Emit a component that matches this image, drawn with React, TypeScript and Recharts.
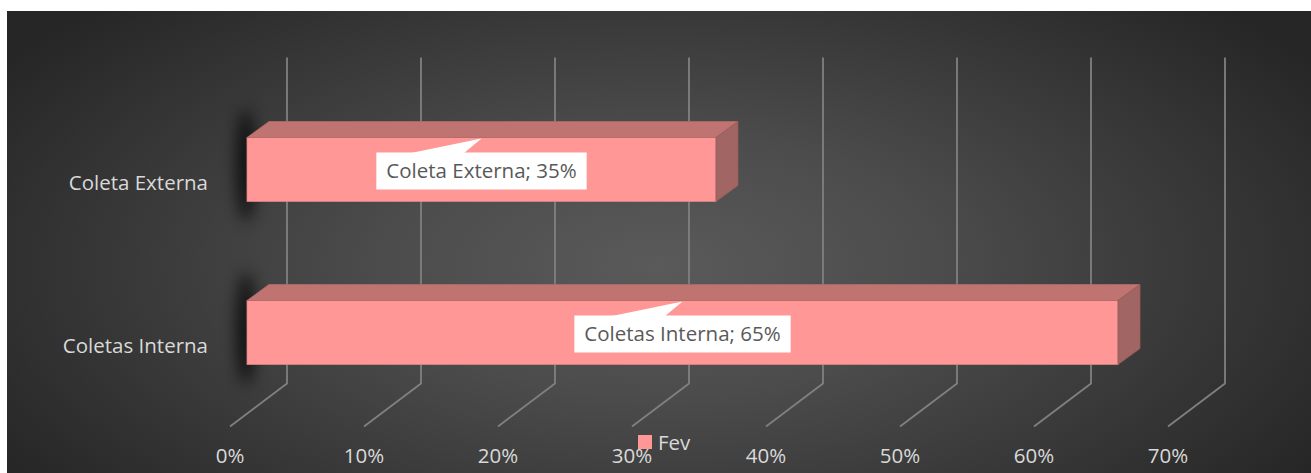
import { useLayoutEffect, useRef, useState } from "react"
import { Bar, BarChart, CartesianGrid, LabelList, Legend, XAxis, YAxis } from "recharts"

const categories = ["Coleta Externa", "Coletas Interna"]
const fevValues = [0.35, 0.65]
const xTicks = [0, 0.1, 0.2, 0.3, 0.4, 0.5, 0.6, 0.7]
const seriesName = "Fev"

const pct = (v: number) => `${Math.round(v * 100)}%`

const data = categories.map((name, i) => ({
    name,
    fev: fevValues[i],
    label: `${name}; ${pct(fevValues[i])}`,
}))

const FONT = "'Open Sans', 'Noto Sans', sans-serif"
const FONT_SIZE = 20.5
const TEXT = "#d9d9d9"
const GRID = "#808080"

// depth of the 3d box seen from the bar's front face
const BOX_DX = 22
const BOX_DY = 16
// back wall / front floor relative to the plane of the bar fronts
const WALL_DX = 40
const WALL_DY = 30
const FLOOR_DX = 17
const FLOOR_DY = 13

function WallLine(props: any) {
    const { x1, y1, y2 } = props
    const bx = x1 + WALL_DX
    return (
        <g key={props.key}>
            <polyline
                points={`${bx},${y1 - WALL_DY} ${bx},${y2 - WALL_DY} ${x1 - FLOOR_DX},${y2 + FLOOR_DY}`}
                fill="none"
                stroke={GRID}
                strokeWidth={1.8}
            />
        </g>
    )
}

function Box3D(props: any) {
    const { x, y, width: w, height: h } = props
    return (
        <g>
            <ellipse cx={x - 1} cy={y + h / 2 - 4} rx={9} ry={56} fill="#000" opacity={0.8} filter="url(#barShadow)" />
            <rect x={x} y={y} width={w} height={h} fill="#ff9797" stroke="#d98584" strokeWidth={0.8} />
            <polygon
                points={`${x},${y} ${x + BOX_DX},${y - BOX_DY} ${x + w + BOX_DX},${y - BOX_DY} ${x + w},${y}`}
                fill="#c07472"
                stroke="#b06a68"
                strokeWidth={0.8}
            />
            <polygon
                points={`${x + w},${y} ${x + w + BOX_DX},${y - BOX_DY} ${x + w + BOX_DX},${y + h - BOX_DY} ${x + w},${y + h}`}
                fill="#a16563"
                stroke="#955d5b"
                strokeWidth={0.8}
            />
        </g>
    )
}

function Callout(props: any) {
    const { x, y, width, height, value } = props
    const ref = useRef<SVGTextElement>(null)
    const [tw, setTw] = useState(195)
    useLayoutEffect(() => {
        if (ref.current) setTw(ref.current.getComputedTextLength())
    }, [value])
    const cx = x + width / 2
    const cy = y + height / 2 + 1.5
    const bw = tw + 20
    const bh = 37
    const top = cy - bh / 2
    return (
        <g>
            <polygon points={`${cx - 73},${top + 1} ${cx},${y + 1} ${cx - 18},${top + 1}`} fill="#fff" />
            <rect x={cx - bw / 2} y={top} width={bw} height={bh} fill="#fff" />
            <text
                ref={ref}
                x={cx}
                y={cy}
                dy="0.35em"
                textAnchor="middle"
                fill="#595959"
                fontSize={FONT_SIZE}
                fontFamily={FONT}
            >
                {value}
            </text>
        </g>
    )
}

function CategoryTick(props: any) {
    const { x, y, payload } = props
    return (
        <text x={x - 39} y={y + 14} dy="0.35em" textAnchor="end" fill={TEXT} fontSize={FONT_SIZE} fontFamily={FONT}>
            {payload.value}
        </text>
    )
}

function PercentTick(props: any) {
    const { x, y, payload } = props
    return (
        <text x={x - FLOOR_DX} y={y + 42} dy="0.35em" textAnchor="middle" fill={TEXT} fontSize={FONT_SIZE} fontFamily={FONT}>
            {pct(payload.value)}
        </text>
    )
}

function LegendBox(props: any) {
    const item = props.payload?.[0]
    return (
        <div style={{ display: "flex", alignItems: "center", gap: 6, fontFamily: FONT, fontSize: FONT_SIZE, color: TEXT, lineHeight: 1 }}>
            <span style={{ width: 14, height: 14, background: item?.color ?? "#ff9797", display: "inline-block" }} />
            <span>{item?.value ?? seriesName}</span>
        </div>
    )
}

export default function App() {
    return (
        <div style={{ position: "absolute", left: 0, top: 0, width: 1311, height: 473, background: "#fff" }}>
            <div
                style={{
                    position: "absolute",
                    left: 7,
                    top: 11,
                    width: 1304,
                    height: 462,
                    background: "radial-gradient(ellipse 60% 80% at 50% 55%, #5a5a5a 0%, #4c4c4c 35%, #262626 100%)",
                }}
            >
                <BarChart
                    width={1304}
                    height={462}
                    data={data}
                    layout="vertical"
                    margin={{ top: 76.5, right: 126, bottom: 29.5, left: 40 }}
                    barSize={64}
                >
                    <defs>
                        <filter id="barShadow" x="-300%" y="-50%" width="700%" height="200%">
                            <feGaussianBlur stdDeviation="8" />
                        </filter>
                    </defs>
                    <CartesianGrid horizontal={false} vertical={WallLine} />
                    <XAxis
                        type="number"
                        domain={[0, 0.7]}
                        ticks={xTicks}
                        axisLine={false}
                        tickLine={false}
                        tickSize={0}
                        tickMargin={0}
                        height={30}
                        tick={<PercentTick />}
                    />
                    <YAxis
                        type="category"
                        dataKey="name"
                        width={200}
                        axisLine={false}
                        tickLine={false}
                        tickSize={0}
                        tickMargin={0}
                        tick={<CategoryTick />}
                    />
                    <Legend
                        layout="horizontal"
                        verticalAlign="middle"
                        align="center"
                        content={<LegendBox />}
                        wrapperStyle={{ left: 631, top: 421, width: "auto" }}
                    />
                    <Bar dataKey="fev" name={seriesName} fill="#ff9797" shape={Box3D} isAnimationActive={false}>
                        <LabelList dataKey="label" content={<Callout />} />
                    </Bar>
                </BarChart>
            </div>
        </div>
    )
}
